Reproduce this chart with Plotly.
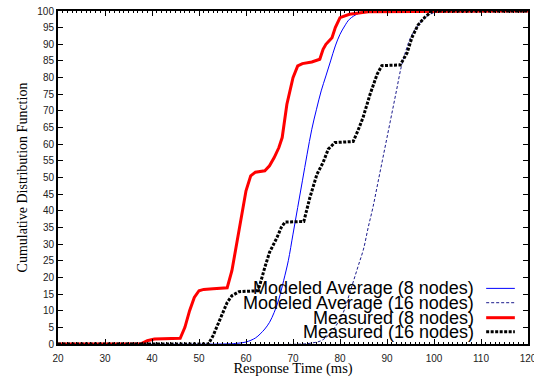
import plotly.graph_objects as go

# ---- data ----
model8_x = [20, 55, 58, 60, 62, 63, 64, 65, 66, 67, 68, 69, 70, 71, 72, 73, 74, 75, 76, 77, 78, 79, 80, 81, 82, 84, 86, 120]
model8_y = [0, 0, 0.2, 0.6, 1.8, 3, 4.5, 6.5, 9.5, 13.5, 19, 25, 33, 41, 49, 57, 64.5, 70.5, 76, 80.5, 85, 89.5, 93, 95.5, 97.5, 99.3, 99.9, 100]

model16_x = [20, 72, 74, 76, 78, 80, 81, 82, 83, 84, 85, 86, 87, 88, 89, 90, 91, 92, 93, 94, 95, 96, 97, 98, 100, 103, 120]
model16_y = [0, 0, 0.3, 1, 3.3, 7.5, 10.5, 15, 19.5, 24, 28.5, 35, 41, 48, 55, 62, 69, 76, 83, 88, 92, 94.5, 96.4, 98, 99.5, 100, 100]

meas8_x = [20, 37.5, 39, 40.5, 46, 47, 48, 49, 50, 51, 53, 56, 57, 58, 59, 60, 61, 62, 64, 65, 66, 67, 67.7, 68.7, 70, 71, 72, 74, 75.7, 76.4, 77, 78.3, 79, 80, 82, 86, 120]
meas8_y = [0, 0, 1, 1.5, 1.7, 5, 10, 14, 16, 16.4, 16.6, 16.9, 22, 30, 38, 46, 50.5, 51.6, 52, 53.5, 56, 59, 62, 72, 80, 83.5, 84.2, 84.7, 85.5, 88.5, 90, 92, 95, 98, 99, 99.8, 100]

meas16_x = [20, 52, 53, 54, 55, 56, 57, 58.5, 62.5, 63, 64, 65, 66.6, 67.5, 68.3, 72.3, 73.6, 75.1, 76.4, 77.5, 78.9, 82.8, 83.8, 84.9, 86.4, 87.9, 88.9, 92.8, 93.5, 94.3, 95.3, 96.6, 98.1, 99.6, 120]
meas16_y = [0, 0, 2.5, 6, 9.5, 12.5, 14.5, 15.7, 16, 18, 23, 27.5, 32, 35, 36.6, 36.8, 44, 51, 54.5, 58.5, 60.5, 60.8, 64, 68, 75, 81, 83.6, 83.8, 85.5, 87.5, 92, 95.8, 98.2, 100, 100]

series_names = ["Modeled Average (8 nodes)", "Modeled Average (16 nodes)",
                "Measured (8 nodes)", "Measured (16 nodes)"]

x_ticks = [20, 30, 40, 50, 60, 70, 80, 90, 100, 110, 120]
y_ticks = list(range(0, 101, 5))

# ---- styles ----
styles = [
    dict(color="#0000ff", width=1, dash="solid", shape="spline"),
    dict(color="#1a1a8c", width=1, dash="3px,2px", shape="spline"),
    dict(color="#ff0000", width=3, dash="solid", shape="linear"),
    dict(color="#000000", width=3, dash="3px,1.5px", shape="linear"),
]
data = [(model8_x, model8_y), (model16_x, model16_y), (meas8_x, meas8_y), (meas16_x, meas16_y)]

fig = go.Figure()
for (xs, ys), name, st in zip(data, series_names, styles):
    fig.add_trace(go.Scatter(
        x=xs, y=ys, mode="lines", name=name, showlegend=False,
        line=dict(color=st["color"], width=st["width"], dash=st["dash"], shape=st["shape"]),
    ))

# manual legend (text right-aligned, sample on the right, as in the reference)
leg_y = [0.167, 0.124, 0.079, 0.037]
for name, st, yy in zip(series_names, styles, leg_y):
    fig.add_annotation(xref="paper", yref="paper", x=0.889, y=yy, text=name,
                       showarrow=False, xanchor="right", yanchor="middle",
                       font=dict(family="Liberation Sans, Arial, sans-serif", size=18, color="#000"))
    fig.add_shape(type="line", xref="paper", yref="paper", x0=0.911, x1=0.972, y0=yy, y1=yy,
                  line=dict(color=st["color"], width=st["width"], dash=st["dash"]))

tickfont = dict(family="Liberation Sans, Arial, sans-serif", size=10, color="#222")
titlefont = dict(family="Liberation Serif, Times New Roman, serif", size=14, color="#000")

fig.update_xaxes(range=[20, 120], tickvals=x_ticks, ticktext=[str(v) for v in x_ticks],
                 ticks="inside", ticklen=5, tickwidth=1, tickcolor="black",
                 minor=dict(dtick=1, ticks="inside", ticklen=2, tickcolor="black"),
                 showline=True, linecolor="black", linewidth=2, mirror="ticks",
                 showgrid=False, zeroline=False, tickfont=tickfont,
                 ticklabeloverflow="allow", ticklabelstandoff=4, automargin=False,
                 title=dict(text="Response Time (ms)", font=dict(titlefont, size=14.5), standoff=4))
fig.update_yaxes(range=[0, 100], tickvals=y_ticks, ticktext=[str(v) for v in y_ticks],
                 ticks="inside", ticklen=5, tickwidth=1, tickcolor="black",
                 showline=True, linecolor="black", linewidth=2, mirror="ticks",
                 showgrid=False, zeroline=False, tickfont=tickfont, automargin=False,
                 title=dict(text="Cumulative Distribution Function", font=titlefont, standoff=6))

fig.update_layout(width=534, height=377, margin=dict(l=58, r=6, t=11, b=33),
                  plot_bgcolor="white", paper_bgcolor="white", showlegend=False)

fig.write_html("out.html")
